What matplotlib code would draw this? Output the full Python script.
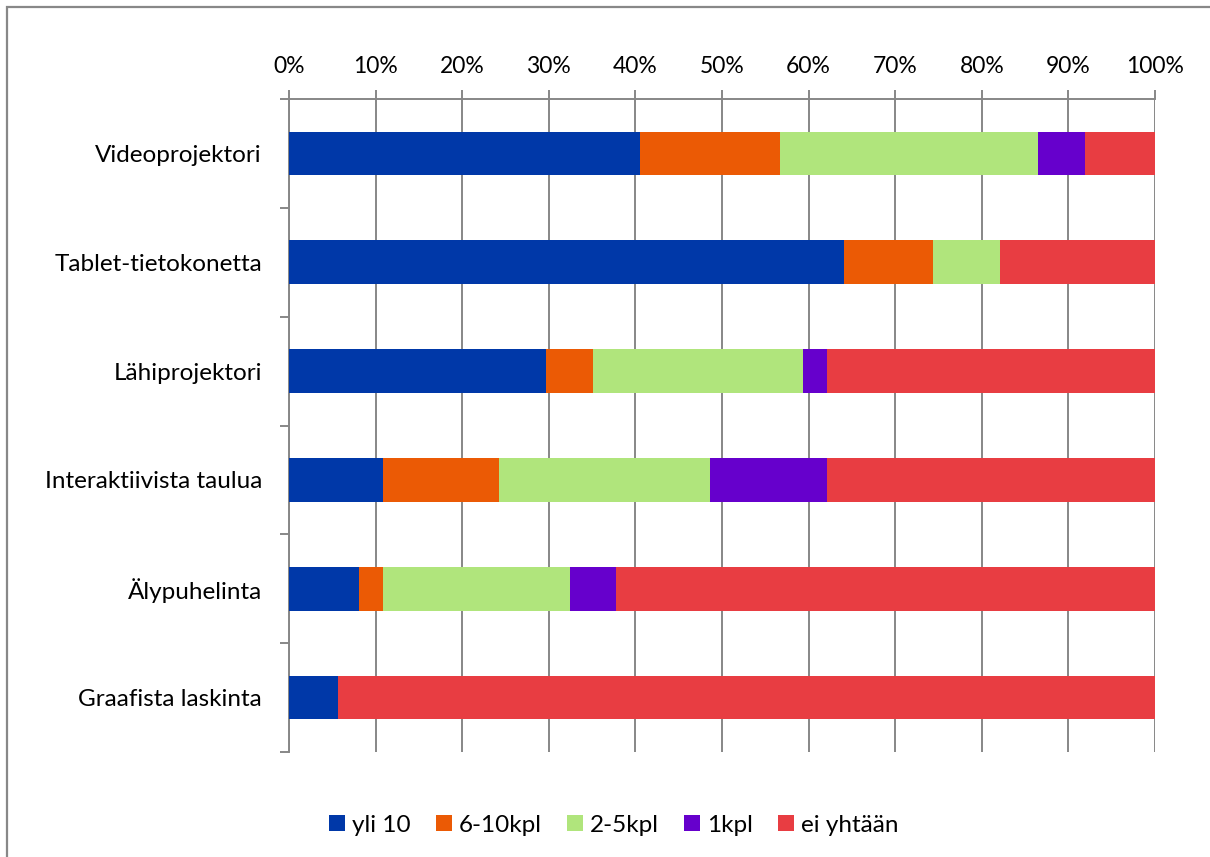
import matplotlib
matplotlib.use("Agg")
import matplotlib.pyplot as plt
import matplotlib.patches as mpatches
import numpy as np

plt.rcParams['font.family'] = ['Lato', 'DejaVu Sans']

categories = ["Videoprojektori", "Tablet-tietokonetta", "Lähiprojektori",
              "Interaktiivista taulua", "Älypuhelinta", "Graafista laskinta"]
series_names = ["yli 10", "6-10kpl", "2-5kpl", "1kpl", "ei yhtään"]
yli10 = [40.5, 64.1, 29.7, 10.8, 8.1, 5.7]
kpl6_10 = [16.2, 10.3, 5.4, 13.5, 2.7, 0.0]
kpl2_5 = [29.8, 7.7, 24.3, 24.3, 21.6, 0.0]
kpl1 = [5.4, 0.0, 2.7, 13.5, 5.4, 0.0]
ei = [8.1, 17.9, 37.9, 37.9, 62.2, 94.3]
colors = ["#0038A8", "#EB5A05", "#B0E57C", "#6600CC", "#E83D42"]
ticks_pct = [0, 10, 20, 30, 40, 50, 60, 70, 80, 90, 100]

data = [yli10, kpl6_10, kpl2_5, kpl1, ei]

fig = plt.figure(figsize=(12.1, 8.57), dpi=100)
ax = fig.add_axes([289/1210, 1-752/857, (1155-289)/1210, (752-99)/857])

y = np.arange(len(categories))
left = np.zeros(len(categories))
for vals, name, c in zip(data, series_names, colors):
    v = np.array(vals)
    ax.barh(y, v, left=left, height=0.4, color=c, label=name, zorder=3)
    left += v

ax.set_xlim(0, 100)
ax.set_ylim(len(categories)-0.5, -0.5)
ax.xaxis.tick_top()
ax.set_xticks(ticks_pct)
ax.set_xticklabels([f"{t}%" for t in ticks_pct])
ax.set_yticks(y)
ax.set_yticklabels(categories)
ax.set_yticks(np.arange(-0.5, len(categories)), minor=True)

gc = "#878787"
ax.grid(axis='x', color=gc, linewidth=1.4, zorder=0)
for s in ['bottom', 'right']:
    ax.spines[s].set_visible(False)
for s in ['top', 'left']:
    ax.spines[s].set_color(gc)
    ax.spines[s].set_linewidth(1.4)

ax.tick_params(axis='x', which='major', direction='out', length=6.5, width=1.4,
               color=gc, pad=9.5, labelsize=16.5)
ax.tick_params(axis='y', which='major', length=0, pad=19.5, labelsize=17.5)
ax.tick_params(axis='y', which='minor', direction='out', length=6.5, width=1.4, color=gc)

fig.legend(loc='center', bbox_to_anchor=(614/1210, 1-825/857), ncol=5, frameon=False,
           fontsize=17.5, handlelength=0.63, handleheight=0.63, handletextpad=0.3,
           columnspacing=1.05)

border = mpatches.Rectangle((7/1210, -0.1), 1.2, 1-7/857+0.1, transform=fig.transFigure,
                            fill=False, edgecolor="#888888", linewidth=1.6)
fig.patches.append(border)

fig.savefig("out.png", dpi=100)
